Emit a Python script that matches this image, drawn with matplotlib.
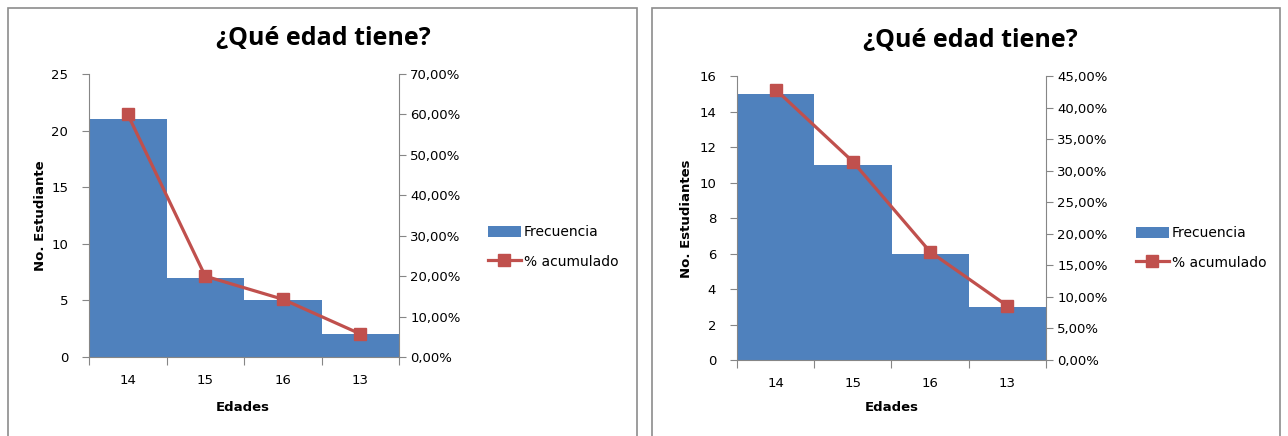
import matplotlib.pyplot as plt
from matplotlib.patches import Rectangle
from matplotlib.ticker import FuncFormatter, MultipleLocator

# datos de las dos encuestas
edades = ['14', '15', '16', '13']
frec_1 = [21, 7, 5, 2]
pct_1 = [60.00, 20.00, 14.29, 5.71]
frec_2 = [15, 11, 6, 3]
pct_2 = [42.86, 31.43, 17.14, 8.57]

azul = '#4F81BD'
rojo = '#C0504D'
gris = '#868686'

W, H = 1288, 436
fig = plt.figure(figsize=(W / 100, H / 100), dpi=100)
plt.rcParams['font.family'] = ['DejaVu Sans']


def px(x0, y0, x1, y1):
    # caja en pixeles -> fraccion de figura
    return [x0 / W, 1 - y1 / H, (x1 - x0) / W, (y1 - y0) / H]


def pct_fmt(v, pos):
    return ('%.2f%%' % v).replace('.', ',')


def panel(box, frame, frec, pct, ymax, ystep, pmax, pstep, ylabel, title_xy, leg_xy, xlab_xy):
    fig.add_artist(Rectangle((frame[0] / W, 1 - frame[3] / H), (frame[2] - frame[0]) / W,
                             (frame[3] - frame[1]) / H, transform=fig.transFigure,
                             fill=False, edgecolor='#8c8c8c', lw=1.2))
    ax = fig.add_axes(px(*box))
    pos = [i + 0.5 for i in range(len(frec))]
    ax.bar(pos, frec, width=1.0, color=azul, edgecolor='none', label='Frecuencia')
    ax.set_xlim(0, len(frec))
    ax.set_ylim(0, ymax)
    ax.yaxis.set_major_locator(MultipleLocator(ystep))
    ax.set_xticks(range(len(frec) + 1))
    ax.set_xticklabels([])
    ax.set_xticks(pos, minor=True)
    ax.set_xticklabels(edades, minor=True)
    ax.tick_params(axis='x', which='major', length=6, color=gris, direction='out')
    ax.tick_params(axis='x', which='minor', length=0, pad=12, labelsize=9.5)
    ax.tick_params(axis='y', length=5, color=gris, labelsize=9.5, pad=10)
    for s in ['top', 'right']:
        ax.spines[s].set_visible(False)
    for s in ['left', 'bottom']:
        ax.spines[s].set_color(gris)

    ax2 = ax.twinx()
    ax2.plot(pos, pct, color=rojo, lw=2.3, marker='s', markersize=9, label='% acumulado')
    ax2.set_ylim(0, pmax)
    ax2.yaxis.set_major_locator(MultipleLocator(pstep))
    ax2.yaxis.set_major_formatter(FuncFormatter(pct_fmt))
    ax2.tick_params(axis='y', length=5, color=gris, labelsize=9.5, pad=3)
    for s in ['top', 'left', 'bottom']:
        ax2.spines[s].set_visible(False)
    ax2.spines['right'].set_color(gris)

    fig.text(title_xy[0] / W, 1 - title_xy[1] / H, '¿Qué edad tiene?', ha='center', va='center',
             fontsize=18, fontweight='bold', family=['Open Sans', 'DejaVu Sans'])
    fig.text(xlab_xy[0] / W, 1 - xlab_xy[1] / H, 'Edades', ha='center', va='center',
             fontsize=9.5, fontweight='bold')
    fig.text(ylabel[1] / W, 1 - ylabel[2] / H, ylabel[0], ha='center', va='center',
             rotation=90, fontsize=9.5, fontweight='bold')

    h1, l1 = ax.get_legend_handles_labels()
    h2, l2 = ax2.get_legend_handles_labels()
    fig.legend(h1 + h2, l1 + l2, loc='center left', bbox_to_anchor=(leg_xy[0] / W, 1 - leg_xy[1] / H),
               frameon=False, fontsize=10, handlelength=2.4, handleheight=0.9,
               handletextpad=0.2, labelspacing=1.1)


panel((89, 74, 399, 357), (8, 8, 637, 440), frec_1, pct_1, 25, 5, 70, 10,
      ('No. Estudiante', 40, 216), (323, 38), (475, 247), (243, 407))
panel((737, 76, 1046, 360), (652, 8, 1280, 440), frec_2, pct_2, 16, 2, 45, 5,
      ('No. Estudiantes', 687, 219), (970, 40), (1123, 248), (892, 407))

fig.savefig('out.png', dpi=100)
